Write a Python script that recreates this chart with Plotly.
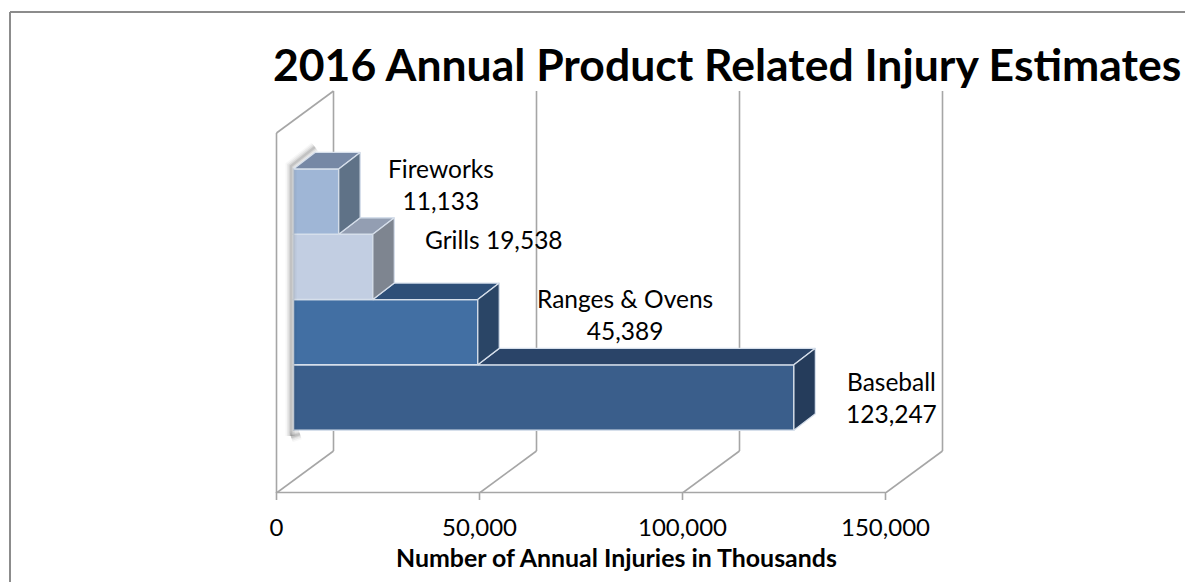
import plotly.graph_objects as go

# --- data ---
categories = ["Baseball", "Ranges & Ovens", "Grills", "Fireworks"]
values = [123247, 45389, 19538, 11133]
label_lines = ["Baseball<br>123,247", "Ranges & Ovens<br>45,389", "Grills 19,538", "Fireworks<br>11,133"]
tick_values = [0, 50000, 100000, 150000]
tick_labels = ["0", "50,000", "100,000", "150,000"]
title_text = "2016 Annual Product Related Injury Estimates"
axis_title_text = "Number of Annual Injuries in Thousands"

# --- styles ---
front_colors = ["#3A5E8B", "#426FA3", "#C2CEE2", "#9FB6D6"]
top_colors = ["#2A4468", "#2E4F78", "#939EB2", "#7688A5"]
side_colors = ["#253C5B", "#2A4566", "#7E8590", "#5F7287"]
edge = "#D6DFEB"
grid = "#A6A6A6"
FONT = "Lato"

W, H = 1185, 582
PLOT_BOTTOM = 493
X0_PX = 276.5
PX_PER_UNIT = 609 / 150000
ROW_PX = 65.3
BASE_ROW_PX = 397.5
DX, DY = 21.5, 16.5       # bar depth, px
WALL_DX, WALL_DY = 57, 42 # wall depth, px
BAR_OFFSET_PX = 17
WALL_H = 360
label_dx = [98, 147, 121, 102]      # label centre offset from bar front end, px
label_dy = [0, 18, 27, 17]          # label centre raised above row centre, px


def dx(px):
    return px / PX_PER_UNIT


def dy(px):
    return px / ROW_PX


def xpx(p):
    return (p - X0_PX) / PX_PER_UNIT


def ypx(p):
    return (BASE_ROW_PX - p) / ROW_PX


def xpaper(p):
    return p / W


def ypaper(p):
    return 1 - p / PLOT_BOTTOM


bar_base = dx(BAR_OFFSET_PX)
fig = go.Figure()

# soft shadow around the bars
shadow_paths = [
    ([xpx(291), xpx(291), xpx(315)], [ypx(436), ypx(166), ypx(147)]),
    ([xpx(291), xpx(300)], [ypx(437), ypx(434)]),
]
for sx, sy in shadow_paths:
    for w, a in [(11, 0.03), (8, 0.05), (5, 0.07), (2.5, 0.10)]:
        fig.add_trace(go.Scatter(x=sx, y=sy, mode="lines", hoverinfo="skip", showlegend=False,
                                 line=dict(color=f"rgba(0,0,0,{a})", width=w)))

# front faces
fig.add_trace(go.Bar(y=list(range(len(values))), x=values, base=bar_base, orientation="h", width=1,
                     marker=dict(color=front_colors, line=dict(color=edge, width=1.5)),
                     hoverinfo="skip", showlegend=False))

# depth faces
for i, v in enumerate(values):
    right = bar_base + v
    upper = bar_base + values[i + 1] if i + 1 < len(values) else bar_base
    top = i + 0.5
    bottom = i - 0.5
    fig.add_trace(go.Scatter(
        x=[upper, upper + dx(DX), right + dx(DX), right, upper],
        y=[top, top + dy(DY), top + dy(DY), top, top],
        mode="lines", fill="toself", fillcolor=top_colors[i],
        line=dict(color=edge, width=1.3), hoverinfo="skip", showlegend=False))
    fig.add_trace(go.Scatter(
        x=[right, right + dx(DX), right + dx(DX), right, right],
        y=[top, top + dy(DY), bottom + dy(DY), bottom, top],
        mode="lines", fill="toself", fillcolor=side_colors[i],
        line=dict(color=edge, width=1.3), hoverinfo="skip", showlegend=False))

shapes = []
line_style = dict(color=grid, width=1.6)
for t in tick_values:
    shapes.append(dict(type="line", layer="below", x0=t, y0=ypx(PLOT_BOTTOM),
                       x1=t + dx(WALL_DX), y1=ypx(PLOT_BOTTOM - WALL_DY), line=line_style))
    shapes.append(dict(type="line", layer="below", x0=t + dx(WALL_DX), y0=ypx(PLOT_BOTTOM - WALL_DY),
                       x1=t + dx(WALL_DX), y1=ypx(PLOT_BOTTOM - WALL_DY - WALL_H), line=line_style))
    # tick mark
    tick_x = xpaper(X0_PX + t * PX_PER_UNIT)
    shapes.append(dict(type="line", xref="paper", yref="paper", x0=tick_x, x1=tick_x,
                       y0=ypaper(PLOT_BOTTOM - 1), y1=ypaper(PLOT_BOTTOM + 7), line=line_style))
shapes.append(dict(type="line", layer="below", x0=0, y0=ypx(PLOT_BOTTOM), x1=0, y1=ypx(PLOT_BOTTOM - WALL_H), line=line_style))
shapes.append(dict(type="line", layer="below", x0=0, y0=ypx(PLOT_BOTTOM - WALL_H),
                   x1=dx(WALL_DX), y1=ypx(PLOT_BOTTOM - WALL_H - WALL_DY), line=line_style))
shapes.append(dict(type="line", xref="x", yref="paper", x0=tick_values[0], y0=ypaper(PLOT_BOTTOM - 0.5),
                   x1=tick_values[-1], y1=ypaper(PLOT_BOTTOM - 0.5), line=line_style))
# outer frame
frame = dict(color="#8C8C8C", width=2)
shapes.append(dict(type="line", xref="paper", yref="paper", x0=xpaper(10), x1=1, y0=ypaper(12), y1=ypaper(12), line=frame))
shapes.append(dict(type="line", xref="paper", yref="paper", x0=xpaper(10), x1=xpaper(10), y0=ypaper(12), y1=ypaper(H), line=frame))

annotations = []
for i, txt in enumerate(label_lines):
    annotations.append(dict(x=bar_base + values[i] + dx(label_dx[i]), y=i + dy(label_dy[i]),
                            text=txt, showarrow=False, xanchor="center", yanchor="middle", align="center",
                            font=dict(family=FONT, size=24.5, color="#000000")))
annotations.append(dict(xref="paper", yref="paper", x=xpaper(616), y=ypaper(557), text=f"<b>{axis_title_text}</b>",
                        showarrow=False, xanchor="center", yanchor="middle",
                        font=dict(family=FONT, size=24.9, color="#000000")))
annotations.append(dict(xref="paper", yref="paper", x=xpaper(271), y=ypaper(63), text=f"<b>{title_text}</b>",
                        showarrow=False, xanchor="left", yanchor="middle",
                        font=dict(family=FONT, size=44.5, color="#000000")))

fig.update_layout(
    width=W, height=H, margin=dict(l=0, r=0, t=0, b=H - PLOT_BOTTOM, pad=0),
    plot_bgcolor="white", paper_bgcolor="white", showlegend=False, barmode="overlay",
    shapes=shapes, annotations=annotations,
    xaxis=dict(range=[xpx(0), xpx(W)], tickmode="array", tickvals=tick_values, ticktext=tick_labels,
               ticks="", showgrid=False, zeroline=False,
               showline=False, ticklabelstandoff=18, tickfont=dict(family=FONT, size=24, color="#000000")),
    yaxis=dict(range=[ypx(PLOT_BOTTOM), ypx(0)], showgrid=False, zeroline=False, showline=False,
               showticklabels=False, ticks=""),
)
fig.write_html("out.html", config={"displayModeBar": False}, post_script="document.body.style.margin='0';")
